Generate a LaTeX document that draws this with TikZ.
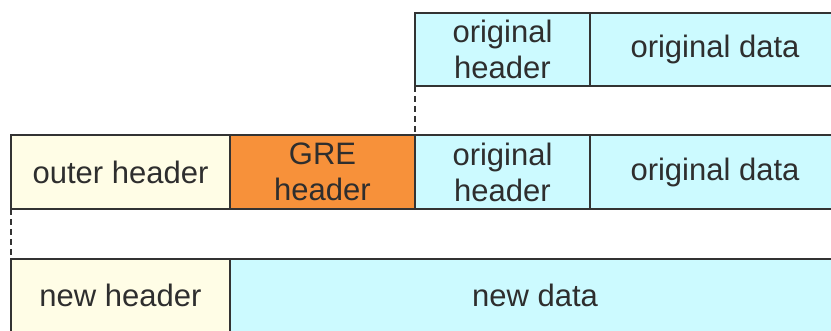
\documentclass[tikz,border=0pt]{standalone}
\usepackage{fontspec}
\setmainfont{Liberation Sans}
\definecolor{hdrcream}{HTML}{FFFDE6}
\definecolor{greorange}{HTML}{F7913A}
\definecolor{paycyan}{HTML}{CCFAFF}
\definecolor{edge}{HTML}{333333}
\definecolor{ink}{HTML}{2E2E2E}
\begin{document}
\begin{tikzpicture}[x=1pt,y=-1pt,
  field/.style={draw=edge, line width=1.3pt, inner sep=0pt, outer sep=0pt,
    anchor=north west, align=center, text=ink,
    font=\fontsize{31}{36}\selectfont},
  cream/.style={fill=hdrcream},
  gre/.style={fill=greorange},
  pay/.style={fill=paycyan},
  tunnel/.style={draw=edge, line width=1.3pt, dash pattern=on 6pt off 4pt}]
\useasboundingbox (0,0) rectangle (831,331);
\begin{scope}
\clip (0,0) rectangle (831,331);
% original packet
\node[field, pay, minimum width=175pt, minimum height=73pt] (oh1) at (415,13) {original\\header};
\node[field, pay, minimum width=250pt, minimum height=73pt] (od1) at (590,13) {original data};
% encapsulated packet
\node[field, cream, minimum width=219pt, minimum height=74pt] (outer) at (11,135) {outer header};
\node[field, gre, minimum width=185pt, minimum height=74pt] (gre) at (230,135) {GRE\\header};
\node[field, pay, minimum width=175pt, minimum height=74pt] (oh2) at (415,135) {original\\header};
\node[field, pay, minimum width=250pt, minimum height=74pt] (od2) at (590,135) {original data};
% resulting packet
\node[field, cream, minimum width=219pt, minimum height=80pt] (nh) at (11,259) {\raisebox{8pt}{new header}};
\node[field, pay, minimum width=610pt, minimum height=80pt] (nd) at (230,259) {\raisebox{8pt}{new data}};
\end{scope}
% dashed guides between the layers
\draw[tunnel] (oh1.south west) -- (oh2.north west);
\draw[tunnel] (outer.south west) -- (nh.north west);
\end{tikzpicture}
\end{document}
